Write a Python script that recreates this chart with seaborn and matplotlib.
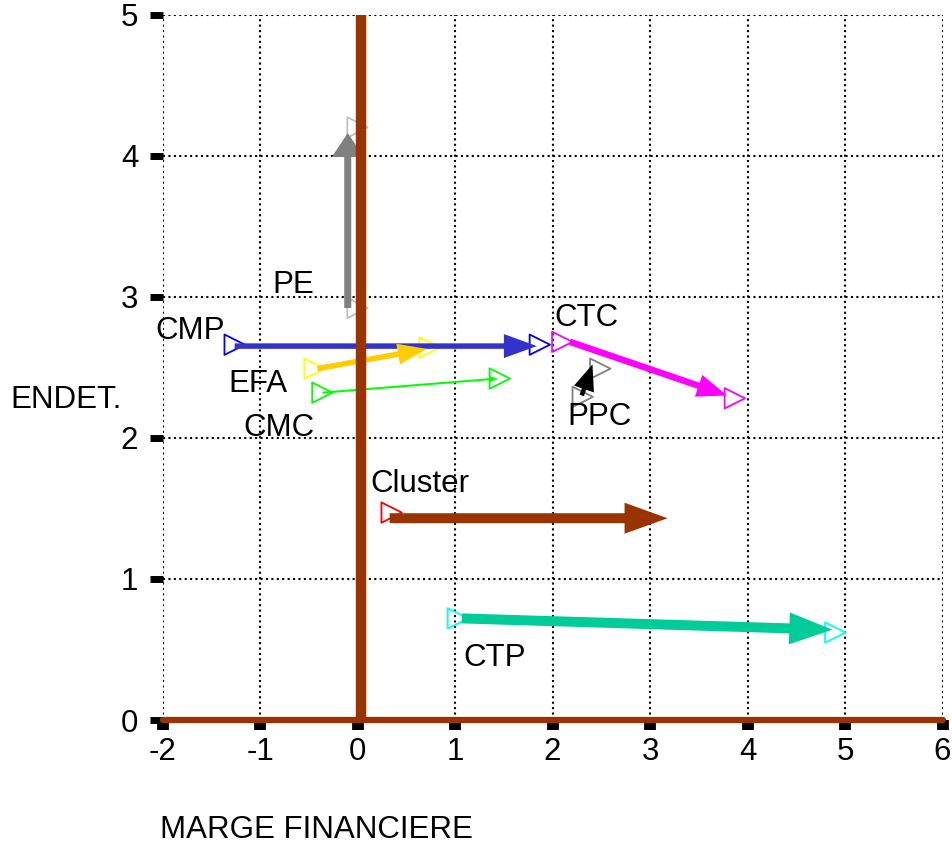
import numpy as np
import pandas as pd
import seaborn as sns
import matplotlib
matplotlib.use("Agg")
import matplotlib.pyplot as plt
from matplotlib.patches import FancyArrowPatch, ArrowStyle

# ---------------- data ----------------
series = ["CMP", "EFA", "CMC", "PE", "CTC", "PPC", "Cluster", "CTP"]

# hollow triangle markers (start / end positions)
start_x = [-1.26, -0.44, -0.36, 0.00, 2.10, 2.31, 0.35, 1.03]
start_y = [2.66, 2.49, 2.32, 2.92, 2.68, 2.29, 1.47, 0.72]
end_x = [1.87, 0.74, 1.46, 0.00, 3.87, 2.49, np.nan, 4.90]
end_y = [2.66, 2.64, 2.42, 4.20, 2.28, 2.49, np.nan, 0.62]

# arrows
arrow_x0 = [-1.26, -0.41, -0.36, -0.10, 2.18, 2.30, 0.33, 1.07]
arrow_y0 = [2.65, 2.49, 2.32, 2.92, 2.68, 2.30, 1.43, 0.72]
arrow_x1 = [1.84, 0.71, 1.44, -0.10, 3.79, 2.41, 3.18, 4.87]
arrow_y1 = [2.65, 2.63, 2.42, 4.16, 2.30, 2.52, 1.43, 0.64]

# label positions
label_x = [-1.72, -1.02, -0.81, -0.66, 2.35, 2.48, 0.64, 1.41]
label_y = [2.76, 2.38, 2.07, 3.08, 2.85, 2.15, 1.67, 0.44]

x_ticks = [-2, -1, 0, 1, 2, 3, 4, 5, 6]
y_ticks = [0, 1, 2, 3, 4, 5]
x_label = "MARGE FINANCIERE"
y_label = "ENDET."

# ---------------- styles ----------------
marker_colors = {"CMP": "#0000ff", "EFA": "#ffff00", "CMC": "#00ff00", "PE": "#c0c0c0",
                 "CTC": "#ff00ff", "PPC": "#808080", "Cluster": "#ff0000", "CTP": "#00ffff"}
arrow_colors = {"CMP": "#3333cc", "EFA": "#ffcc00", "CMC": "#00ff00", "PE": "#808080",
                "CTC": "#ff00ff", "PPC": "#000000", "Cluster": "#993300", "CTP": "#00cc99"}
# (tail width, head length, head width) in pixels
arrow_px = {"CMP": (5.5, 33, 24), "EFA": (5.5, 29, 21), "CMC": (2, 8, 6), "PE": (7, 24, 32),
            "CTC": (6.5, 30, 23), "PPC": (4.5, 26, 21), "Cluster": (10, 43, 31), "CTP": (10, 43, 32)}
BROWN = "#993300"

sns.set_theme(style="white")
plt.rcParams["font.family"] = ["Liberation Sans", "DejaVu Sans"]
plt.rcParams["text.color"] = "black"
plt.rcParams["xtick.color"] = "black"
plt.rcParams["ytick.color"] = "black"
plt.rcParams["xtick.labelcolor"] = "black"
plt.rcParams["ytick.labelcolor"] = "black"

FS = 22.5

fig = plt.figure(figsize=(9.52, 8.48), dpi=100)
ax = fig.add_axes([162.5 / 952, 128 / 848, 780 / 952, 705.5 / 848])

# markers
pts = pd.DataFrame({
    "series": series + series,
    "x": start_x + end_x,
    "y": start_y + end_y,
}).dropna()
sns.scatterplot(data=pts, x="x", y="y", hue="series", palette=marker_colors,
                marker=">", s=215, linewidth=1.3, legend=False, ax=ax, zorder=3)
coll = ax.collections[-1]
fc = coll.get_facecolors()
coll.set_edgecolors(fc)
coll.set_facecolors("none")

# arrows
px2pt = 72 / 100
for i, name in enumerate(series):
    tw, hl, hw = arrow_px[name]
    style = ArrowStyle.Simple(head_length=hl * px2pt, head_width=hw * px2pt, tail_width=tw * px2pt)
    arr = FancyArrowPatch((arrow_x0[i], arrow_y0[i]), (arrow_x1[i], arrow_y1[i]),
                          arrowstyle=style, mutation_scale=1, shrinkA=0, shrinkB=0,
                          color=arrow_colors[name], linewidth=0, zorder=4)
    ax.add_patch(arr)
    ax.text(label_x[i], label_y[i], name, ha="center", va="center", fontsize=FS,
            color="black", zorder=6)

# brown axes lines
ax.axhline(0, xmin=0, xmax=1, color=BROWN, lw=4.5, zorder=5, clip_on=False)
ax.plot([0.04, 0.04], [0, 5], color=BROWN, lw=7.5, zorder=5, solid_capstyle="butt",
        clip_on=False)

ax.set_xlim(-2, 6)
ax.set_ylim(0, 5)
ax.set_xticks(x_ticks)
ax.set_yticks(y_ticks)
ax.set_xticklabels([str(v) for v in x_ticks], fontsize=FS)
ax.set_yticklabels([str(v) for v in y_ticks], fontsize=FS)
ax.grid(True, color="black", linestyle=(0, (1, 1.6)), linewidth=1.5)
ax.set_axisbelow(True)
for sp in ax.spines.values():
    sp.set_visible(False)
ax.tick_params(axis="y", direction="out", length=9.5, width=5, color="black", pad=8,
               left=True)
ax.tick_params(axis="x", direction="out", length=7, width=8.5, color="black", pad=5,
               bottom=True)
ax.set_xlabel("")
ax.set_ylabel("")

fig.text(10 / 952, 1 - 400 / 848, y_label, ha="left", va="center", fontsize=FS)
fig.text(160 / 952, 1 - 830 / 848, x_label, ha="left", va="center", fontsize=FS)

fig.savefig("out.png", dpi=100, facecolor="white")
